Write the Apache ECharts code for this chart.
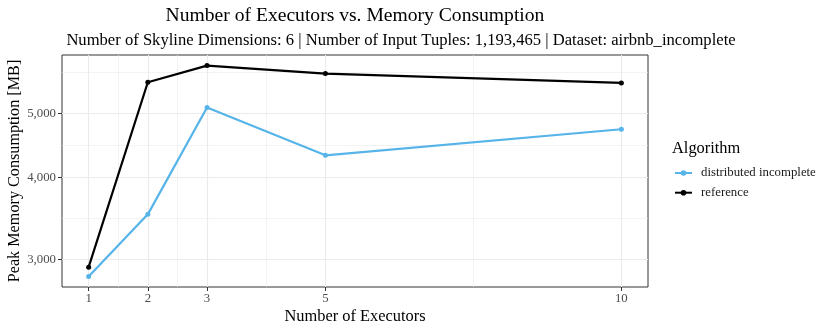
<!DOCTYPE html>
<html>
<head>
<meta charset="utf-8">
<script src="https://cdn.jsdelivr.net/npm/echarts@6/dist/echarts.min.js"></script>
<style>
    html, body { margin: 0; padding: 0; background: #fff; }
    #chart { width: 830px; height: 332px; }
</style>
</head>
<body>
<div id="chart"></div>
<script>
// Data
const executors = [1, 2, 3, 5, 10];
const distributedIncomplete = [2826, 3513, 5105, 4320, 4732];
const referenceAlgo = [2920, 5578, 5914, 5751, 5565];

// Axis breaks (ggplot style: majors + midpoints as minors)
const xMajor = [1, 2, 3, 5, 10];
const xMinor = [1.5, 2.5, 4, 7.5];
const yMajor = [3000, 4000, 5000];
const yMinor = [3464, 4472, 5773];

const FONT = "'Liberation Serif', 'DejaVu Serif', serif";
const colors = {
    incomplete: '#56B4E9',
    reference: '#000000',
    grid: '#EBEBEB',
    border: '#333333',
    tickText: '#4D4D4D'
};

const X_MIN = 0.55, X_MAX = 10.45;
const Y_MIN = 2724, Y_MAX = 6137;

const chart = echarts.init(document.getElementById('chart'), null, { renderer: 'canvas' });

const toPairs = (ys) => executors.map((x, i) => [x, ys[i]]);

const fmt = (v) => Number(v).toLocaleString('en-US');

const option = {
    animation: false,
    backgroundColor: '#ffffff',
    textStyle: { fontFamily: FONT },
    title: [
        {
            text: 'Number of Executors vs. Memory Consumption',
            left: 355, top: 6, textAlign: 'center', padding: 0,
            textStyle: { fontFamily: FONT, fontSize: 19.6, fontWeight: 'normal', color: '#000' }
        },
        {
            text: 'Number of Skyline Dimensions: 6 | Number of Input Tuples: 1,193,465 | Dataset: airbnb_incomplete',
            left: 401, top: 32, textAlign: 'center', padding: 0,
            textStyle: { fontFamily: FONT, fontSize: 16.6, fontWeight: 'normal', color: '#000' }
        },
        {
            text: 'Algorithm',
            left: 672, top: 141, padding: 0,
            textStyle: { fontFamily: FONT, fontSize: 16.4, fontWeight: 'normal', color: '#000' }
        }
    ],
    legend: {
        orient: 'vertical',
        left: 674, top: 166, padding: 0,
        itemWidth: 17, itemHeight: 7, itemGap: 5.7,
        data: ['distributed incomplete', 'reference'],
        textStyle: { fontFamily: FONT, fontSize: 12.8, lineHeight: 14, color: '#1a1a1a', padding: [0, 0, 0, 4] }
    },
    grid: {
        left: 62, right: 182, top: 55, bottom: 45,
        outerBoundsMode: 'none',
        show: true, borderColor: colors.border, borderWidth: 1,
        backgroundColor: '#fff'
    },
    xAxis: [
        {
            type: 'value', min: X_MIN, max: X_MAX,
            name: 'Number of Executors', nameLocation: 'middle', nameGap: 22,
            nameMoveOverlap: false,
            nameTextStyle: { fontFamily: FONT, fontSize: 16.4, color: '#000' },
            axisLine: { show: false },
            axisTick: { show: true, length: 4, customValues: xMajor, lineStyle: { color: colors.border } },
            axisLabel: { customValues: xMajor, margin: 5, fontFamily: FONT, fontSize: 12.8, color: colors.tickText },
            splitLine: { show: true, lineStyle: { color: colors.grid, width: 1.1 } }
        },
        {
            type: 'value', min: X_MIN, max: X_MAX, position: 'bottom',
            axisLine: { show: false },
            axisTick: { show: false, customValues: xMinor },
            axisLabel: { show: false, customValues: xMinor },
            splitLine: { show: true, lineStyle: { color: colors.grid, width: 0.6 } }
        }
    ],
    yAxis: [
        {
            type: 'log', logBase: 10, min: Y_MIN, max: Y_MAX,
            name: 'Peak Memory Consumption [MB]', nameLocation: 'middle', nameGap: 39,
            nameMoveOverlap: false,
            nameTextStyle: { fontFamily: FONT, fontSize: 16.2, color: '#000' },
            axisLine: { show: false },
            axisTick: { show: true, length: 4, customValues: yMajor, lineStyle: { color: colors.border } },
            axisLabel: {
                customValues: yMajor, margin: 6, fontFamily: FONT, fontSize: 12.8,
                color: colors.tickText, formatter: fmt
            },
            splitLine: { show: true, lineStyle: { color: colors.grid, width: 1.1 } }
        },
        {
            type: 'log', logBase: 10, min: Y_MIN, max: Y_MAX, position: 'left',
            axisLine: { show: false },
            axisTick: { show: false, customValues: yMinor },
            axisLabel: { show: false, customValues: yMinor },
            splitLine: { show: true, lineStyle: { color: colors.grid, width: 0.6 } }
        }
    ],
    series: [
        {
            name: 'distributed incomplete', type: 'line',
            data: toPairs(distributedIncomplete),
            color: colors.incomplete,
            lineStyle: { width: 2.2 }, symbol: 'circle', symbolSize: 5,
            z: 3
        },
        {
            name: 'reference', type: 'line',
            data: toPairs(referenceAlgo),
            color: colors.reference,
            lineStyle: { width: 2.2 }, symbol: 'circle', symbolSize: 5,
            z: 4
        }
    ]
};

chart.setOption(option);
</script>
</body>
</html>
